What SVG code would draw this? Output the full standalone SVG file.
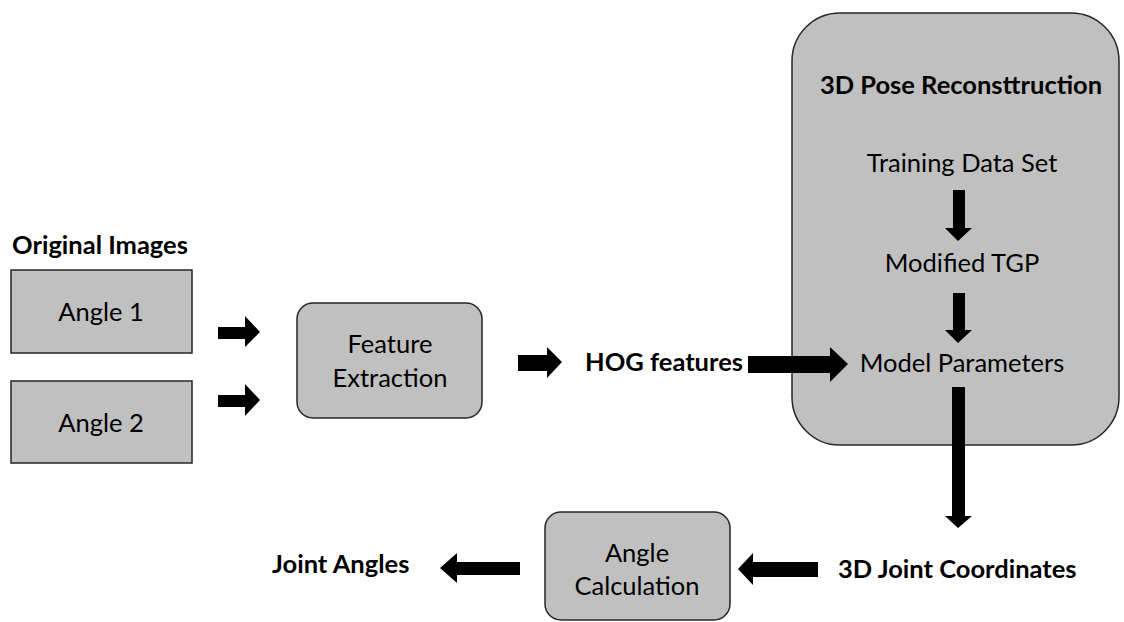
<svg xmlns="http://www.w3.org/2000/svg" width="1124" height="622" viewBox="0 0 1124 622">
<style>
.box{fill:#c0c0c0;stroke:#262626;stroke-width:1.5}
.t{font-family:Lato,"Open Sans",sans-serif;font-size:25.5px;fill:#000;text-anchor:middle}
.b{font-family:Lato,"Open Sans",sans-serif;font-size:25.5px;font-weight:bold;fill:#000}
.arr{fill:#000}
</style>
<rect width="1124" height="622" fill="#fff"/>
<g id="big">
<rect class="box" x="792" y="13" width="327" height="432" rx="48" ry="48"/>
<text class="b" x="961" y="94" text-anchor="middle">3D Pose Reconsttruction</text>
</g>
<g id="title"><text class="b" x="12" y="254">Original Images</text></g>
<g id="angle1"><rect class="box" x="11" y="270" width="181" height="83"/><text class="t" x="101" y="321">Angle 1</text></g>
<g id="angle2"><rect class="box" x="11" y="381" width="181" height="82"/><text class="t" x="101" y="432">Angle 2</text></g>
<g id="feature"><rect class="box" x="297" y="303" width="185" height="115" rx="16"/><text class="t" x="390" y="353">Feature</text><text class="t" x="390" y="387">Extraction</text></g>
<g id="hog"><text class="b" x="585" y="371">HOG features</text></g>
<g id="training"><text class="t" x="962" y="172">Training Data Set</text></g>
<g id="tgp"><text class="t" x="962" y="272">Modified TGP</text></g>
<g id="model"><text class="t" x="962" y="372">Model Parameters</text></g>
<g id="coords"><text class="b" x="838" y="578">3D Joint Coordinates</text></g>
<g id="anglecalc"><rect class="box" x="545" y="512" width="185" height="108" rx="16"/><text class="t" x="637" y="562">Angle</text><text class="t" x="637" y="595">Calculation</text></g>
<g id="joint"><text class="b" x="272" y="573">Joint Angles</text></g>
<g id="connectors" class="arr">
<polygon points="218,327 245,327 245,316 260,332 245,347 245,339 218,339"/>
<polygon points="218,395 245,395 245,384 260,400 245,416 245,407 218,407"/>
<polygon points="518,355 547,355 547,347 562,362 547,378 547,371 518,371"/>
<polygon points="748,356 830,356 830,347 848,364 830,382 830,373 748,373"/>
<polygon points="953,190 965,190 965,228 972,228 958,241 945,228 953,228"/>
<polygon points="953,293 965,293 965,330 972,330 958,343 945,330 953,330"/>
<polygon points="952,387 965,387 965,516 972,516 958,528 945,516 952,516"/>
<polygon points="818,562 753,562 753,553 738,569 753,585 753,577 818,577"/>
<polygon points="520,562 457,562 457,553 440,568 457,583 457,575 520,575"/>
</g>
</svg>
